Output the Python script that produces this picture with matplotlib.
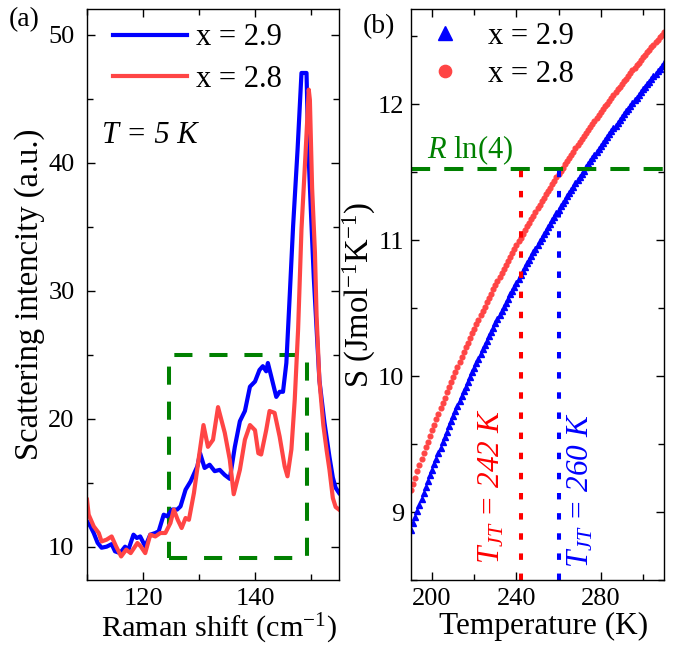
import numpy as np
import matplotlib
matplotlib.use("Agg")
import matplotlib.pyplot as plt
from matplotlib.ticker import MultipleLocator
from matplotlib.patches import Rectangle

plt.rcParams['font.family'] = ['Liberation Serif', 'DejaVu Serif']
plt.rcParams['mathtext.fontset'] = 'custom'
plt.rcParams['mathtext.rm'] = 'Liberation Serif'
plt.rcParams['mathtext.it'] = 'Liberation Serif:italic'
plt.rcParams['mathtext.bf'] = 'Liberation Serif:bold'

# ---------------- Panel (a): Raman spectra at T = 5 K ----------------
raman_x29 = [110.0, 110.6, 111.2, 111.9, 112.6, 113.5, 114.4, 115.0, 115.9, 116.8,
             117.4, 118.3, 118.9, 119.5, 120.4, 121.3, 122.2, 122.8, 123.7, 124.3,
             125.2, 126.1, 126.7, 127.6, 128.5, 129.7, 130.2, 131.0, 131.9, 132.8,
             133.7, 134.6, 135.5, 136.4, 137.3, 138.2, 139.1, 140.0, 140.8, 141.4,
             142.0, 142.3, 142.9, 143.8, 144.4, 145.0, 145.6, 146.2, 146.8, 147.6,
             148.3, 149.2, 149.5, 150.0, 150.5, 151.0, 151.5, 152.4, 153.3, 153.9,
             154.4, 155.0]
raman_y29 = [11.98, 11.6, 11.07, 10.3, 9.92, 10.0, 10.2, 9.64, 9.5, 10.0,
             9.77, 10.94, 10.68, 10.8, 10.02, 10.94, 11.07, 11.2, 12.5, 12.37,
             12.9, 12.9, 13.15, 14.45, 15.1, 16.27, 17.3, 16.15, 16.4, 15.9,
             16.0, 15.6, 15.3, 17.8, 19.8, 20.6, 22.5, 22.9, 23.8, 24.1,
             23.7, 24.35, 23.3, 21.7, 22.1, 22.1, 24.35, 29.6, 35.0, 41.0,
             47.0, 47.0, 41.3, 36.0, 31.0, 27.0, 23.0, 19.7, 17.0, 15.4,
             14.6, 14.2]

raman_x28 = [110.0, 110.3, 111.2, 112.1, 112.6, 113.5, 114.4, 115.2, 116.1, 117.0,
             117.8, 119.0, 119.6, 120.4, 121.3, 122.2, 123.1, 124.0, 124.9, 125.5,
             126.2, 126.9, 127.6, 128.2, 129.1, 130.0, 130.8, 131.6, 132.5, 133.4,
             134.6, 135.5, 136.2, 137.3, 138.2, 139.1, 140.0, 140.6, 141.1, 142.0,
             142.6, 143.5, 144.4, 145.3, 145.8, 146.5, 147.1, 147.7, 148.3, 149.0,
             149.6, 149.8, 150.2, 150.7, 151.0, 151.5, 152.2, 152.8, 153.3, 153.9,
             154.4, 155.0]
raman_y28 = [13.67, 12.5, 11.59, 11.07, 10.41, 10.55, 10.8, 10.02, 9.24, 9.77,
             9.5, 10.29, 10.02, 9.5, 10.94, 10.8, 11.07, 11.07, 11.85, 12.9,
             12.1, 11.46, 12.24, 12.1, 14.2, 17.05, 19.5, 17.8, 18.35, 20.9,
             18.9, 16.8, 14.1, 16.0, 18.36, 19.5, 19.1, 17.3, 17.2, 19.1,
             20.6, 20.45, 18.6, 16.27, 15.5, 17.6, 21.5, 27.0, 34.8, 40.5,
             45.7, 44.9, 38.0, 33.0, 28.0, 23.0, 19.5, 17.5, 16.0, 13.8,
             13.1, 12.9]

# ---------------- Panel (b): entropy vs temperature ----------------
temp_K = list(range(190, 311))
S_28 = [9.160, 9.207, 9.253, 9.298, 9.343, 9.388, 9.431, 9.475, 9.517, 9.560,
        9.601, 9.643, 9.683, 9.724, 9.764, 9.803, 9.842, 9.881, 9.919, 9.956,
        9.994, 10.031, 10.067, 10.103, 10.139, 10.175, 10.210, 10.244, 10.279, 10.313,
        10.347, 10.380, 10.413, 10.446, 10.479, 10.511, 10.543, 10.574, 10.606, 10.637,
        10.668, 10.698, 10.728, 10.758, 10.788, 10.818, 10.847, 10.876, 10.905, 10.933,
        10.962, 10.990, 11.018, 11.045, 11.073, 11.100, 11.127, 11.154, 11.180, 11.207,
        11.233, 11.259, 11.285, 11.311, 11.336, 11.361, 11.386, 11.411, 11.436, 11.461,
        11.485, 11.509, 11.533, 11.557, 11.581, 11.605, 11.628, 11.651, 11.675, 11.698,
        11.720, 11.743, 11.766, 11.788, 11.810, 11.832, 11.854, 11.876, 11.898, 11.919,
        11.941, 11.962, 11.983, 12.004, 12.025, 12.046, 12.067, 12.087, 12.108, 12.128,
        12.148, 12.169, 12.188, 12.208, 12.228, 12.248, 12.267, 12.287, 12.306, 12.325,
        12.344, 12.363, 12.382, 12.401, 12.420, 12.438, 12.457, 12.475, 12.494, 12.512,
        12.530]
S_29 = [8.870, 8.916, 8.962, 9.008, 9.053, 9.097, 9.141, 9.184, 9.227, 9.269,
        9.311, 9.352, 9.393, 9.434, 9.474, 9.513, 9.552, 9.591, 9.630, 9.668,
        9.705, 9.742, 9.779, 9.816, 9.852, 9.888, 9.923, 9.958, 9.993, 10.028,
        10.062, 10.096, 10.129, 10.163, 10.196, 10.228, 10.261, 10.293, 10.325, 10.356,
        10.388, 10.419, 10.450, 10.480, 10.510, 10.540, 10.570, 10.600, 10.629, 10.658,
        10.687, 10.716, 10.744, 10.773, 10.801, 10.829, 10.856, 10.884, 10.911, 10.938,
        10.965, 10.991, 11.018, 11.044, 11.070, 11.096, 11.122, 11.147, 11.173, 11.198,
        11.223, 11.248, 11.272, 11.297, 11.321, 11.346, 11.370, 11.394, 11.417, 11.441,
        11.464, 11.488, 11.511, 11.534, 11.557, 11.580, 11.602, 11.625, 11.647, 11.669,
        11.691, 11.713, 11.735, 11.757, 11.778, 11.800, 11.821, 11.842, 11.863, 11.884,
        11.905, 11.926, 11.947, 11.967, 11.988, 12.008, 12.028, 12.048, 12.068, 12.088,
        12.108, 12.127, 12.147, 12.166, 12.186, 12.205, 12.224, 12.243, 12.262, 12.281,
        12.300]

R_LN4 = 8.314 * np.log(4)
T_JT_28 = 242
T_JT_29 = 260
labels = ["x = 2.9", "x = 2.8"]

BLUE = '#0000FF'
RED = '#FF4545'
GREEN = '#008000'

fig = plt.figure(figsize=(6.78, 6.45), dpi=100)
ax1 = fig.add_axes([0.1283, 0.1008, 0.3717, 0.8853])
ax2 = fig.add_axes([0.6062, 0.1008, 0.3732, 0.8853])

TICK_FS = 19
LEG_FS = 22

for ax in (ax1, ax2):
    ax.tick_params(which='both', direction='in', top=True, right=True,
                   labelsize=TICK_FS, width=1.0)
    ax.tick_params(which='major', length=5.5)
    ax.tick_params(which='minor', length=4)
    ax.tick_params(axis='x', which='both', pad=6)
    for s in ax.spines.values():
        s.set_linewidth(1.0)
ax1.tick_params(axis='y', which='both', pad=9)
ax2.tick_params(axis='y', which='both', pad=5)

# ---- panel (a)
ax1.plot(raman_x29, raman_y29, color=BLUE, lw=3.0, label=labels[0])
ax1.plot(raman_x28, raman_y28, color=RED, lw=3.0, label=labels[1])
box_x0, box_x1, box_y0, box_y1 = 124.7, 149.2, 9.1, 25.0
ax1.add_patch(Rectangle((box_x0, box_y0), box_x1 - box_x0, box_y1 - box_y0,
                        fill=False, edgecolor=GREEN, lw=2.9,
                        linestyle=(0, (4.5, 4.2))))
ax1.set_xlim(110, 155)
ax1.set_ylim(7.4, 52.0)
ax1.xaxis.set_major_locator(MultipleLocator(20))
ax1.xaxis.set_minor_locator(MultipleLocator(10))
ax1.yaxis.set_major_locator(MultipleLocator(10))
ax1.yaxis.set_minor_locator(MultipleLocator(5))
ax1.set_xlabel("Raman shift (cm$^{-1}$)", fontsize=21.8)
ax1.xaxis.set_label_coords(0.5 + 6 / 252, -0.056)
ax1.set_ylabel("Scattering intencity (a.u.)", fontsize=23.5, labelpad=2)
ax1.legend(loc='upper left', bbox_to_anchor=(0.105, 0.975), frameon=False,
           fontsize=LEG_FS, handlelength=2.4, handletextpad=0.3,
           labelspacing=0.42, borderpad=0, borderaxespad=0)
ax1.text(112.6, 41.56, "T = 5 K", fontsize=22, style='italic', va='baseline')
fig.text(24 / 678, 1 - 20 / 645, "(a)", fontsize=20, ha='center', va='center')

# ---- panel (b)
ax2.plot(temp_K, S_29, linestyle='none', marker='^', ms=4.0, color=BLUE,
         mec=BLUE, label=labels[0])
ax2.plot(temp_K, S_28, linestyle='none', marker='o', ms=3.4, color=RED,
         mec=RED, label=labels[1])
ax2.axhline(R_LN4, color=GREEN, lw=2.9, linestyle=(0, (4.75, 3.5)))
ax2.plot([T_JT_28, T_JT_28], [8.5, R_LN4], color='#FF0000', lw=2.9,
         linestyle=(0, (1.6, 3.4)))
ax2.plot([T_JT_29, T_JT_29], [8.5, R_LN4], color=BLUE, lw=2.9,
         linestyle=(0, (1.6, 3.4)))
ax2.text(197.6, 11.60, "$R$ ln(4)", color=GREEN, fontsize=22, va='baseline')
ax2.text(228.4, 9.19, "$T_{JT}$ = %d K" % T_JT_28, color='#FF0000', fontsize=22.5,
         style='italic', rotation=90, ha='center', va='center')
ax2.text(270.6, 9.16, "$T_{JT}$ = %d K" % T_JT_29, color=BLUE, fontsize=22.5,
         style='italic', rotation=90, ha='center', va='center')
ax2.set_xlim(190, 310)
ax2.set_ylim(8.5, 12.7)
ax2.xaxis.set_major_locator(MultipleLocator(40))
ax2.xaxis.set_minor_locator(MultipleLocator(20))
ax2.yaxis.set_major_locator(MultipleLocator(1))
ax2.yaxis.set_minor_locator(MultipleLocator(0.5))
ax2.set_xlabel("Temperature (K)", fontsize=22.5)
ax2.xaxis.set_label_coords(0.5 + 6 / 253, -0.056)
ax2.set_ylabel("S (Jmol$^{-1}$K$^{-1}$)", fontsize=23.5, labelpad=0)
ax2.legend(loc='upper left', bbox_to_anchor=(0.075, 0.978), frameon=False,
           fontsize=LEG_FS, handlelength=1.0, handletextpad=0.9,
           labelspacing=0.3, borderpad=0, borderaxespad=0, markerscale=2.6)
fig.text(379 / 678, 1 - 27 / 645, "(b)", fontsize=20, ha='center', va='center')

fig.savefig("out.png", dpi=100)
